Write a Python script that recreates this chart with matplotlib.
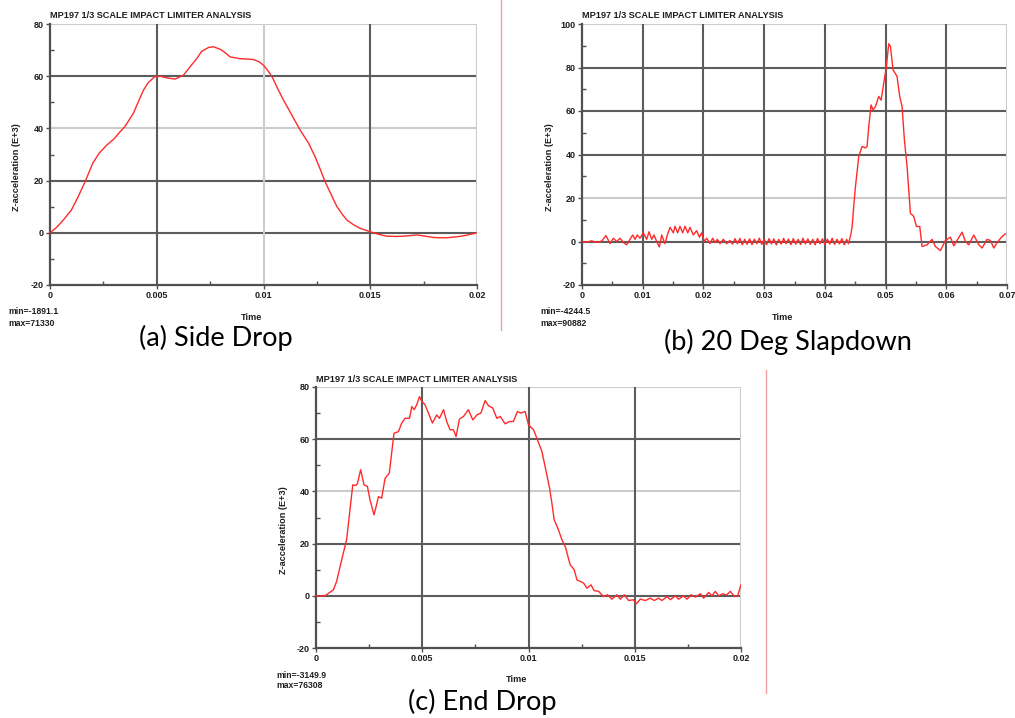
import matplotlib
matplotlib.use('Agg')
import matplotlib.pyplot as plt
from matplotlib.ticker import MultipleLocator, FixedLocator, FuncFormatter

# ---------------- data ----------------
plot_title = "MP197 1/3 SCALE IMPACT LIMITER ANALYSIS"
y_label = "Z-acceleration (E+3)"
x_label = "Time"

# (a) Side Drop  (time in ms, acceleration in E+3)
side_t = [0, 0.3, 0.625, 1.0, 1.3, 1.64, 2.0, 2.3, 2.66, 3.0, 3.28, 3.5, 3.9, 4.1, 4.38,
          4.6, 4.9, 5.16, 5.5, 5.86, 6.25, 6.55, 6.88, 7.1, 7.42, 7.66, 8.0, 8.2, 8.44,
          8.9, 9.2, 9.53, 9.8, 10.0, 10.2, 10.4, 10.65, 10.94, 11.3, 11.72, 12.1, 12.42,
          12.65, 12.89, 13.15, 13.44, 13.7, 13.9, 14.2, 14.53, 15.0, 15.4, 15.78, 16.2,
          16.56, 17.19, 17.97, 18.3, 18.59, 19.1, 19.53, 20.0]
side_v = [0, 2.0, 4.9, 8.7, 13.5, 19.5, 26.6, 30.5, 33.6, 36.0, 38.7, 40.6, 45.7, 49.5, 54.7,
          57.5, 59.8, 60.0, 59.3, 58.9, 60.4, 63.5, 66.8, 69.5, 71.0, 71.3, 70.2, 69.0, 67.4,
          66.7, 66.6, 66.4, 65.5, 64.2, 62.2, 59.8, 55.5, 50.8, 45.5, 39.3, 34.5, 29.1,
          24.5, 19.5, 15.0, 10.0, 7.0, 4.9, 3.2, 1.7, 0.4, -0.6, -1.3, -1.4,
          -1.3, -0.8, -1.8, -1.9, -1.9, -1.5, -0.9, 0.0]
side_minmax = ["min=-1891.1", "max=71330"]

# (b) 20 Deg Slapdown
slap_t = [0, 0.77, 1.59, 2.42, 3.24, 3.95, 4.61, 5.16, 5.71, 6.26, 6.81, 7.36, 7.91, 8.35,
          8.73, 9.11, 9.55, 10.1, 10.65, 11.04, 11.48, 11.86, 12.3, 12.74, 13.12, 13.67,
          14.06, 14.5, 15.04, 15.32, 15.76, 16.14, 16.58, 16.97, 17.41, 17.79, 18.34, 18.89,
          19.33, 19.71, 20.15, 20.54, 21.08, 21.52, 21.91, 22.29, 22.73, 23.28, 23.83, 24.38,
          24.8, 25.2, 25.6, 26.0, 26.4, 26.8, 27.2, 27.6, 28.0, 28.4, 28.8, 29.2, 29.6, 30.0,
          30.4, 30.8, 31.2, 31.6, 32.0, 32.4, 32.8, 33.2, 33.6, 34.0, 34.4, 34.8, 35.2, 35.6,
          36.0, 36.4, 36.8, 37.2, 37.6, 38.0, 38.4, 38.8, 39.2, 39.6, 40.0, 40.4, 40.8, 41.2,
          41.6, 42.0, 42.4, 42.8, 43.2, 43.6, 43.9, 44.3, 44.5, 44.75, 45.03, 45.58, 46.13,
          46.68, 46.95, 47.23, 47.61, 47.94, 48.33, 48.87, 49.26, 49.7, 50.14, 50.52, 50.8,
          51.23, 51.89, 52.33, 52.72, 53.1, 53.54, 54.09, 54.64, 55.08, 55.63, 56.01, 56.84,
          57.66, 58.21, 59.03, 59.86, 60.68, 61.23, 61.78, 62.6, 63.15, 63.7, 64.53, 65.35,
          65.9, 66.72, 67.27, 67.82, 68.37, 69.19, 69.74]
slap_v = [0, -0.3, 0.3, -0.4, 0.2, 2.7, -1.0, 1.5, 0.0, 1.5, -0.5, -1.5, 1.0, 3.0,
          1.0, 3.0, 1.5, 4.0, 1.0, 4.5, 1.0, 3.0, 0.0, -2.5, 3.0, -1.0,
          3.0, 6.5, 4.0, 7.0, 4.0, 7.0, 4.0, 7.0, 4.0, 6.5, 3.0, 5.0,
          2.0, 4.0, 0.0, 1.5, -1.0, 1.5, -0.5, 1.0, -1.0, 1.0, -1.0, 0.5,
          -1.2, 1.3, -1.0, 1.4, -1.5, 1.0, -1.3, 1.2, -1.4, 1.1, -1.0, 1.5, -1.3, 1.0,
          -1.5, 1.3, -1.1, 1.2, -1.6, 1.0, -1.2, 1.4, -1.0, 1.1, -1.5, 1.3, -1.2, 1.0,
          -1.4, 1.5, -1.1, 1.2, -1.3, 1.0, -1.5, 1.4, -1.0, 1.2, -1.4, 1.1, -1.2, 1.5,
          -1.3, 1.0, -1.1, 1.3, -1.5, 1.0, -1.0, 3.5, 7.0, 16.0, 25.0, 39.0, 43.7,
          43.0, 43.7, 52.9, 62.8, 60.5, 62.0, 66.7, 65.0, 72.8, 80.5, 90.9, 89.7,
          79.0, 75.9, 66.7, 62.0, 46.7, 34.5, 13.0, 11.5, 6.9, 6.9, -2.3, -1.5,
          1.0, -2.3, -4.2, 0.5, 2.0, -2.0, 0.5, 4.3, 0.0, -1.5, 3.0, -1.5,
          -3.0, 1.0, 0.5, -3.0, -0.5, 2.3, 3.5]
slap_minmax = ["min=-4244.5", "max=90882"]

# (c) End Drop
end_t = [0, 0.42, 0.82, 0.97, 1.21, 1.44, 1.6, 1.73, 1.88, 1.95, 2.1, 2.26, 2.42, 2.54,
         2.73, 2.83, 2.94, 3.09, 3.25, 3.45, 3.67, 3.88, 4.03, 4.19, 4.4, 4.51, 4.62, 4.74,
         4.87, 4.98, 5.13, 5.29, 5.48, 5.68, 5.81, 6.0, 6.15, 6.31, 6.47, 6.59, 6.75, 6.94,
         7.17, 7.38, 7.57, 7.76, 7.96, 8.12, 8.32, 8.51, 8.67, 8.9, 9.11, 9.29, 9.48, 9.64,
         9.84, 10.0, 10.24, 10.39, 10.63, 10.78, 10.99, 11.1, 11.21, 11.41, 11.57, 11.73,
         11.96, 12.15, 12.28, 12.43, 12.59, 12.75, 12.94, 13.09, 13.3, 13.53, 13.72, 13.92,
         14.16, 14.32, 14.51, 14.71, 14.94, 15.07, 15.26, 15.5, 15.73, 15.92, 16.12, 16.28,
         16.52, 16.67, 16.91, 17.06, 17.3, 17.46, 17.65, 17.85, 18.09, 18.24, 18.48, 18.63,
         18.79, 18.95, 19.15, 19.31, 19.5, 19.69, 19.84, 20.0]
end_v = [0, 0, 2.3, 5.5, 13.8, 21.5, 33.0, 42.5, 42.3, 43.0, 48.3, 42.5, 41.9, 36.8,
         31.0, 34.2, 38.0, 37.4, 45.0, 47.0, 62.3, 62.9, 66.1, 68.0, 68.0, 72.5, 71.3, 73.2,
         76.3, 74.5, 73.2, 70.0, 66.2, 69.3, 68.0, 71.3, 66.8, 63.6, 63.6, 61.0, 67.7, 68.7,
         71.3, 67.4, 69.3, 70.0, 74.8, 72.8, 71.9, 68.0, 68.7, 65.9, 66.8, 66.8, 70.6, 70.0,
         70.6, 65.5, 63.6, 60.4, 55.3, 49.6, 41.3, 35.5, 29.1, 25.3, 21.5, 18.9,
         11.9, 10.0, 6.1, 5.5, 4.9, 2.9, 4.2, 2.0, 1.7, -0.3, 0.4, -1.3,
         0.4, -1.3, 0.4, -1.8, -1.5, -3.1, -1.3, -1.8, -0.9, -1.8, -0.9, -1.8,
         -0.3, -1.5, 0.0, -1.3, 0.0, -1.3, 0.4, -0.5, 0.8, -0.9, 1.3, 0.0,
         1.7, 0.0, 0.8, 0.3, 1.7, -0.3, 0.0, 4.2]
end_minmax = ["min=-3149.9", "max=76308"]

captions = ["(a) Side Drop", "(b) 20 Deg Slapdown", "(c) End Drop"]

# ---------------- figure ----------------
W, H = 1015, 718
fig = plt.figure(figsize=(W / 100, H / 100), dpi=100)


def fx(px):
    return px / W


def fy(py):
    return 1 - py / H


DARK = '#5c5c5c'
LIGHT = '#cccccc'
RED = '#ff2a2a'
TXT = '#1e1e1e'
FONT = 'Liberation Sans'

panels = [
    dict(rect=(50, 24, 477, 285), t=side_t, v=side_v, xmax=0.02, xstep=0.005,
         ymin=-20, ymax=80, ystep=20, light_y=[40, 80], light_x=[0.01, 0.02],
         mm=side_minmax, mmx=8, mmy=312, cap=captions[0], capx=216, capy=338),
    dict(rect=(582, 24, 1007, 285), t=slap_t, v=slap_v, xmax=0.07, xstep=0.01,
         ymin=-20, ymax=100, ystep=20, light_y=[20, 100], light_x=[0.07],
         mm=slap_minmax, mmx=540, mmy=312, cap=captions[1], capx=788, capy=342),
    dict(rect=(316, 387, 741, 648), t=end_t, v=end_v, xmax=0.02, xstep=0.005,
         ymin=-20, ymax=80, ystep=20, light_y=[40, 80], light_x=[0.02],
         mm=end_minmax, mmx=276, mmy=675, cap=captions[2], capx=482, capy=702),
]

for p in panels:
    l, t, r, b = p['rect']
    ax = fig.add_axes([fx(l), fy(b), (r - l) / W, (b - t) / H])
    ax.set_xlim(0, p['xmax'])
    ax.set_ylim(p['ymin'], p['ymax'])
    # grid lines
    yt = list(range(p['ymin'], p['ymax'] + 1, p['ystep']))
    nx = int(round(p['xmax'] / p['xstep']))
    xt = [i * p['xstep'] for i in range(nx + 1)]
    for yv in yt[1:]:
        c = LIGHT if yv in p['light_y'] else DARK
        ax.axhline(yv, color=c, lw=1.5, zorder=1)
    for xv in xt[1:]:
        c = LIGHT if any(abs(xv - q) < 1e-9 for q in p['light_x']) else DARK
        ax.axvline(xv, color=c, lw=1.5, zorder=1)
    ax.plot([tt / 1000 for tt in p['t']], p['v'], color=RED, lw=1.0, zorder=3)

    for s in ['top', 'right']:
        ax.spines[s].set_visible(False)
    for s in ['left', 'bottom']:
        ax.spines[s].set_color('#505050')
        ax.spines[s].set_linewidth(1.6)

    ax.xaxis.set_major_locator(FixedLocator(xt))
    ax.yaxis.set_major_locator(FixedLocator(yt))
    ax.xaxis.set_minor_locator(MultipleLocator(p['xstep'] / 2))
    ax.yaxis.set_minor_locator(MultipleLocator(p['ystep'] / 2))
    ax.xaxis.set_major_formatter(FuncFormatter(lambda v, pos: '%g' % round(v, 4)))
    ax.yaxis.set_major_formatter(FuncFormatter(lambda v, pos: '%g' % v))
    ax.tick_params(which='major', direction='out', length=3, width=1, color='#505050',
                   labelsize=6.5, pad=1.5)
    ax.tick_params(which='minor', direction='in', length=3, width=1, color='#505050')
    for lab in ax.get_xticklabels() + ax.get_yticklabels():
        lab.set_fontweight('bold')
        lab.set_fontfamily(FONT)
        lab.set_color(TXT)

    fig.text(fx(l), fy(t - 8), plot_title, fontsize=6.6, fontweight='bold', family=FONT,
             ha='left', va='center', color=TXT)
    fig.text(fx(l - 33), fy((t + b) / 2 + 13), y_label, fontsize=6.6, fontweight='bold',
             family=FONT, rotation=90, ha='center', va='center', color=TXT)
    fig.text(fx((l + r) / 2 - 12), fy(b + 32), x_label, fontsize=6.6, fontweight='bold',
             family=FONT, ha='center', va='center', color=TXT)
    fig.text(fx(p['mmx']), fy(p['mmy']), p['mm'][0], fontsize=6.2, fontweight='bold',
             family=FONT, ha='left', va='center', color=TXT)
    fig.text(fx(p['mmx']), fy(p['mmy'] + 11), p['mm'][1], fontsize=6.2, fontweight='bold',
             family=FONT, ha='left', va='center', color=TXT)
    fig.text(fx(p['capx']), fy(p['capy']), p['cap'], fontsize=19.5, family='Lato',
             ha='center', va='center', color='black')

# separator lines
fig.add_artist(plt.Line2D([fx(501), fx(501)], [fy(0), fy(330)], color='#f4a0a0', lw=1,
                          transform=fig.transFigure))
fig.add_artist(plt.Line2D([fx(766), fx(766)], [fy(370), fy(693)], color='#f4a0a0', lw=1,
                          transform=fig.transFigure))

fig.savefig('out.png', dpi=100, facecolor='white')
